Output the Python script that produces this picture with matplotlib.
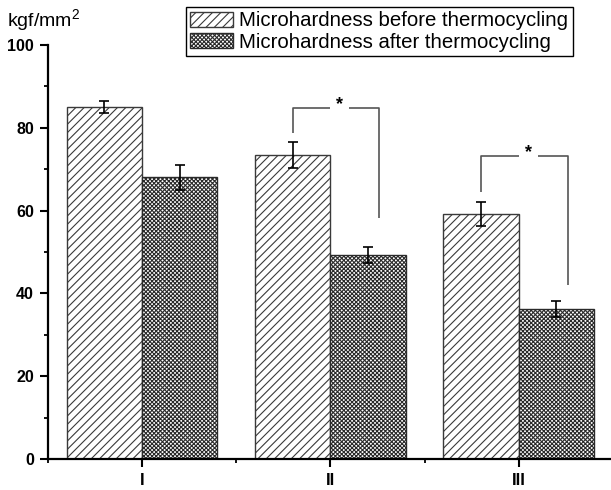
import matplotlib
matplotlib.use("Agg")
import matplotlib.pyplot as plt
import numpy as np

plt.rcParams['font.family'] = ['Liberation Sans', 'DejaVu Sans']
plt.rcParams['mathtext.fontset'] = 'custom'
plt.rcParams['mathtext.rm'] = 'Liberation Sans'
plt.rcParams['hatch.linewidth'] = 0.8

categories = ['I', 'II', 'III']
before_vals = [85.0, 73.4, 59.2]
before_err = [1.5, 3.2, 2.8]
after_vals = [68.0, 49.3, 36.2]
after_err = [3.0, 2.0, 1.9]
label_before = 'Microhardness before thermocycling'
label_after = 'Microhardness after thermocycling'
y_ticks = [0, 20, 40, 60, 80, 100]
# significance brackets: (group index, top level, left foot, right foot)
brackets = [(1, 84.9, 78.8, 58.1), (2, 73.2, 64.6, 42.0)]

fig = plt.figure(figsize=(6.11, 4.90), dpi=100)
ax = fig.add_axes([48/611, 1-459/490, 1-48/611, (459-45)/490])

x = np.arange(1, len(categories) + 1)
w = 0.4
ax.bar(x - w/2, before_vals, w, yerr=before_err, color='white', edgecolor='#3a3a3a',
       hatch='////', linewidth=1.0, label=label_before,
       error_kw=dict(ecolor='black', elinewidth=1.2, capsize=3.5, capthick=1.2))
ax.bar(x + w/2, after_vals, w, yerr=after_err, color='white', edgecolor='#2a2a2a',
       hatch='xxxxxxxx', linewidth=1.0, label=label_after,
       error_kw=dict(ecolor='black', elinewidth=1.2, capsize=3.5, capthick=1.2))

for gi, top, lfoot, rfoot in brackets:
    c = x[gi]
    xl = c - w/2
    xr = c + 0.26
    ax.plot([xl, xl, c], [lfoot, top, top], color='#555555', lw=1.2, solid_capstyle='butt')
    ax.plot([c + 0.1, xr, xr], [top, top, rfoot], color='#555555', lw=1.2, solid_capstyle='butt')
    ax.text(c + 0.05, top + 0.8, '*', ha='center', va='center', fontsize=13, fontweight='bold')

ax.set_xlim(0.5, 3.49)
ax.set_ylim(0, 100)
ax.spines['top'].set_visible(False)
ax.spines['right'].set_visible(False)
ax.spines['left'].set_linewidth(1.6)
ax.spines['bottom'].set_linewidth(1.6)
ax.spines['left'].set_bounds(0, 100)

ax.set_yticks(y_ticks)
ax.set_yticks(np.arange(10, 100, 20), minor=True)
ax.set_xticks(x)
ax.set_xticklabels(categories)
ax.set_xticks([0.5, 1.5, 2.5], minor=True)
ax.tick_params(axis='both', which='major', direction='out', length=6, width=1.5,
               labelsize=11.5)
ax.tick_params(axis='both', which='minor', direction='out', length=3, width=1.3)
ax.tick_params(axis='x', which='major', pad=4, labelsize=12)
ax.tick_params(axis='y', which='major', pad=4)
for t in ax.get_xticklabels() + ax.get_yticklabels():
    t.set_fontweight('bold')

fig.text(7/611, 1-21/490, r'kgf/mm$^2$', fontsize=14, ha='left', va='center')

leg = fig.legend(loc='upper left', bbox_to_anchor=(186/611, 1-7/490), fontsize=14.7,
                 frameon=True, fancybox=False, edgecolor='black', framealpha=1,
                 handlelength=2.1, handleheight=0.75, handletextpad=0.3,
                 labelspacing=0.12, borderpad=0.22, borderaxespad=0)
leg.get_frame().set_linewidth(1.0)

fig.savefig('out.png', dpi=100)
